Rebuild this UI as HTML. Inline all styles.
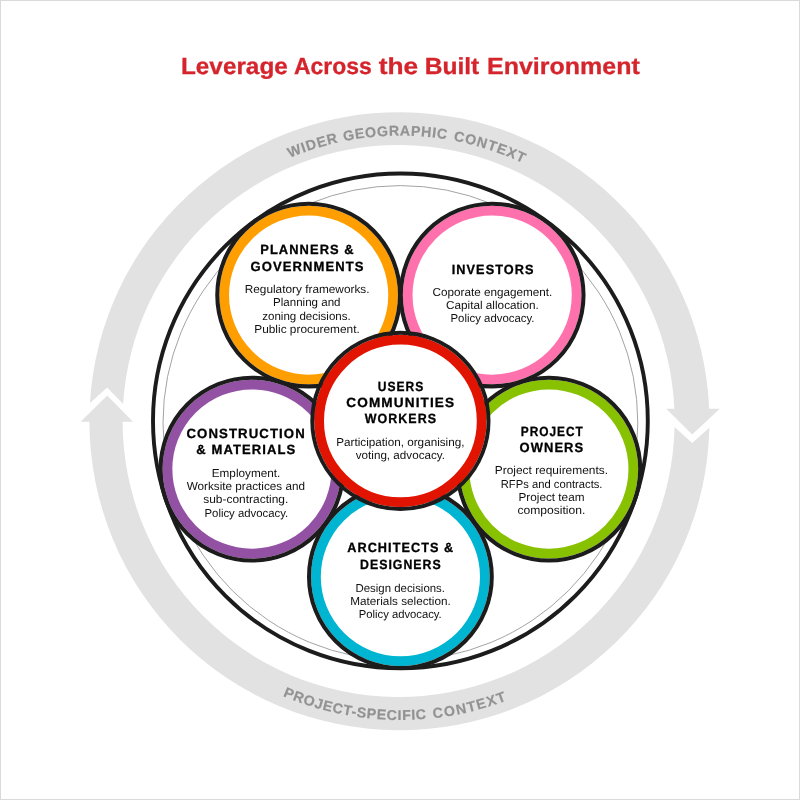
<!DOCTYPE html>
<html lang="en">
<head>
<meta charset="utf-8">
<title>Leverage Across the Built Environment</title>
<style>
html,body{margin:0;padding:0;background:#fff;}
body{width:800px;height:800px;overflow:hidden;}
svg{display:block;will-change:transform;}
text{font-family:"Liberation Sans",sans-serif;text-rendering:geometricPrecision;}
.h{font-weight:700;font-size:13.3px;fill:#000;stroke:#000;stroke-width:0.3px;letter-spacing:1.1px;}
.b{font-weight:400;font-size:11.5px;fill:#111;}
.t{font-weight:700;font-size:23.3px;fill:#d5242c;stroke:#d5242c;stroke-width:0.3px;}
.c{font-weight:700;font-size:14.2px;fill:#929292;stroke:#929292;stroke-width:0.2px;}
</style>
</head>
<body>
<svg width="800" height="800" viewBox="0 0 800 800">
<rect x="0" y="0" width="800" height="800" fill="#fff"/>
<rect x="0.5" y="0.5" width="799" height="799" fill="none" stroke="#dadada" stroke-width="1"/>
<g fill="#e2e2e2">
<path d="M89.94 403.0 A310.00 309.00 0 0 1 709.15 408.80 L719.8 408.8 L692.2 434.4 L666.3 408.8 L674.33 408.8 A276.00 275.90 0 0 0 123.13 403.90 L107.2 387.5 Z"/>
<path d="M709.33 427.8 A310.00 309.00 0 0 1 89.40 421.80 L80.6 421.8 L107.2 395.6 L133.0 421.8 L122.60 421.8 A276.00 275.90 0 0 0 674.54 426.90 L692.2 443.1 Z"/>
</g>
<defs><path id="arcTop" d="M216.95 202.37 A285.4 285.4 0 0 1 583.85 202.37"/><path id="arcBot" d="M208.21 650.05 A299.0 299.0 0 0 0 592.59 650.05"/></defs>
<text class="c"><textPath href="#arcTop" startOffset="85.63" textLength="50.79" lengthAdjust="spacing">WIDER</textPath> <textPath href="#arcTop" startOffset="142.51" textLength="102.85" lengthAdjust="spacing">GEOGRAPHIC</textPath> <textPath href="#arcTop" startOffset="252.31" textLength="73.50" lengthAdjust="spacing">CONTEXT</textPath></text>
<text class="c"><textPath href="#arcBot" startOffset="87.97" textLength="146.67" lengthAdjust="spacing">PROJECT-SPECIFIC</textPath> <textPath href="#arcBot" startOffset="241.65" textLength="75.49" lengthAdjust="spacing">CONTEXT</textPath></text>
<circle cx="400.4" cy="420.9" r="247.4" fill="none" stroke="#1c1c1c" stroke-width="3.9"/>
<circle cx="400.4" cy="423" r="237.4" fill="none" stroke="#a3a3a3" stroke-width="1"/>
<circle cx="308.65" cy="295.04" r="84.45" fill="#fff" stroke="#ff9e00" stroke-width="9.7"/><circle cx="308.65" cy="295.04" r="91.35" fill="none" stroke="#1c1c1c" stroke-width="4.1"/>
<circle cx="492.15" cy="295.04" r="84.45" fill="#fff" stroke="#ff71ad" stroke-width="9.7"/><circle cx="492.15" cy="295.04" r="91.35" fill="none" stroke="#1c1c1c" stroke-width="4.1"/>
<circle cx="548.86" cy="469.11" r="84.45" fill="#fff" stroke="#88c100" stroke-width="9.7"/><circle cx="548.86" cy="469.11" r="91.35" fill="none" stroke="#1c1c1c" stroke-width="4.1"/>
<circle cx="400.40" cy="576.70" r="84.45" fill="#fff" stroke="#00b5d1" stroke-width="9.7"/><circle cx="400.40" cy="576.70" r="91.35" fill="none" stroke="#1c1c1c" stroke-width="4.1"/>
<circle cx="251.94" cy="469.11" r="84.45" fill="#fff" stroke="#9351a3" stroke-width="9.7"/><circle cx="251.94" cy="469.11" r="91.35" fill="none" stroke="#1c1c1c" stroke-width="4.1"/>
<circle cx="400.40" cy="420.90" r="81.30" fill="#fff" stroke="#e01400" stroke-width="9.8"/><circle cx="400.40" cy="420.90" r="88.15" fill="none" stroke="#1c1c1c" stroke-width="3.9"/>
<text class="t" y="74.10"><tspan x="181.00" textLength="106.75" lengthAdjust="spacingAndGlyphs">Leverage</tspan> <tspan x="294.00" textLength="77.75" lengthAdjust="spacingAndGlyphs">Across</tspan> <tspan x="378.75" textLength="39.50" lengthAdjust="spacingAndGlyphs">the</tspan> <tspan x="424.75" textLength="54.50" lengthAdjust="spacingAndGlyphs">Built</tspan> <tspan x="487.00" textLength="152.75" lengthAdjust="spacingAndGlyphs">Environment</tspan></text>
<text class="h" x="260.25" y="254.00" textLength="94.50" lengthAdjust="spacingAndGlyphs">PLANNERS &amp;</text>
<text class="h" x="250.50" y="270.50" textLength="114.00" lengthAdjust="spacingAndGlyphs">GOVERNMENTS</text>
<text class="b" x="244.75" y="293.00" textLength="124.75" lengthAdjust="spacingAndGlyphs">Regulatory frameworks.</text>
<text class="b" x="273.00" y="306.20" textLength="67.50" lengthAdjust="spacingAndGlyphs">Planning and</text>
<text class="b" x="262.25" y="320.00" textLength="88.50" lengthAdjust="spacingAndGlyphs">zoning decisions.</text>
<text class="b" x="254.25" y="333.00" textLength="105.50" lengthAdjust="spacingAndGlyphs">Public procurement.</text>
<text class="h" x="451.75" y="273.80" textLength="82.75" lengthAdjust="spacingAndGlyphs">INVESTORS</text>
<text class="b" x="432.50" y="296.00" textLength="119.75" lengthAdjust="spacingAndGlyphs">Coporate engagement.</text>
<text class="b" x="446.00" y="309.00" textLength="92.75" lengthAdjust="spacingAndGlyphs">Capital allocation.</text>
<text class="b" x="450.50" y="322.00" textLength="84.00" lengthAdjust="spacingAndGlyphs">Policy advocacy.</text>
<text class="h" x="377.75" y="390.65" textLength="46.50" lengthAdjust="spacingAndGlyphs">USERS</text>
<text class="h" x="346.25" y="406.60" textLength="109.00" lengthAdjust="spacingAndGlyphs">COMMUNITIES</text>
<text class="h" x="364.75" y="422.75" textLength="72.25" lengthAdjust="spacingAndGlyphs">WORKERS</text>
<text class="b" x="336.25" y="446.00" textLength="128.25" lengthAdjust="spacingAndGlyphs">Participation, organising,</text>
<text class="b" x="355.75" y="459.00" textLength="89.25" lengthAdjust="spacingAndGlyphs">voting, advocacy.</text>
<text class="h" x="520.75" y="435.90" textLength="63.00" lengthAdjust="spacingAndGlyphs">PROJECT</text>
<text class="h" x="519.50" y="451.75" textLength="64.75" lengthAdjust="spacingAndGlyphs">OWNERS</text>
<text class="b" x="494.75" y="474.00" textLength="113.25" lengthAdjust="spacingAndGlyphs">Project requirements.</text>
<text class="b" x="500.75" y="488.00" textLength="101.75" lengthAdjust="spacingAndGlyphs">RFPs and contracts.</text>
<text class="b" x="518.50" y="501.00" textLength="66.00" lengthAdjust="spacingAndGlyphs">Project team</text>
<text class="b" x="517.50" y="514.00" textLength="67.75" lengthAdjust="spacingAndGlyphs">composition.</text>
<text class="h" x="347.25" y="552.30" textLength="107.00" lengthAdjust="spacingAndGlyphs">ARCHITECTS &amp;</text>
<text class="h" x="360.00" y="569.00" textLength="81.75" lengthAdjust="spacingAndGlyphs">DESIGNERS</text>
<text class="b" x="355.50" y="592.00" textLength="89.50" lengthAdjust="spacingAndGlyphs">Design decisions.</text>
<text class="b" x="350.25" y="605.00" textLength="100.50" lengthAdjust="spacingAndGlyphs">Materials selection.</text>
<text class="b" x="358.75" y="618.00" textLength="83.00" lengthAdjust="spacingAndGlyphs">Policy advocacy.</text>
<text class="h" x="186.50" y="438.10" textLength="119.25" lengthAdjust="spacingAndGlyphs">CONSTRUCTION</text>
<text class="h" x="196.25" y="454.00" textLength="100.00" lengthAdjust="spacingAndGlyphs">&amp; MATERIALS</text>
<text class="b" x="211.75" y="477.00" textLength="68.50" lengthAdjust="spacingAndGlyphs">Employment.</text>
<text class="b" x="186.75" y="490.00" textLength="118.25" lengthAdjust="spacingAndGlyphs">Worksite practices and</text>
<text class="b" x="203.25" y="503.00" textLength="85.00" lengthAdjust="spacingAndGlyphs">sub-contracting.</text>
<text class="b" x="204.50" y="517.00" textLength="83.75" lengthAdjust="spacingAndGlyphs">Policy advocacy.</text>
</svg>
</body>
</html>
